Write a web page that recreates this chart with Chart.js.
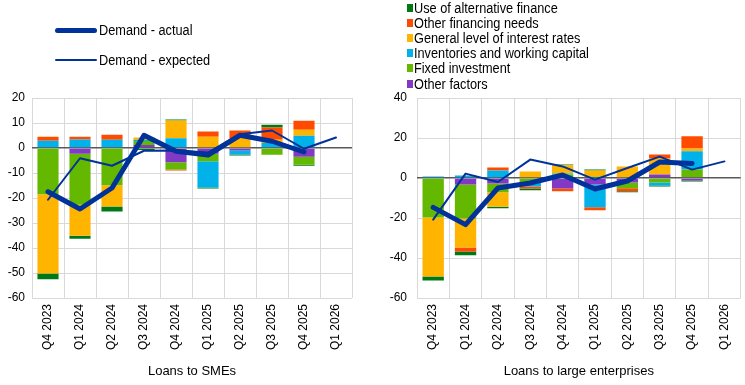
<!DOCTYPE html>
<html>
<head>
<meta charset="utf-8">
<script src="https://cdn.jsdelivr.net/npm/chart.js@4.4.1/dist/chart.umd.min.js"></script>
<style>
  html, body { margin: 0; padding: 0; background: #fff; }
  #wrap { position: relative; width: 745px; height: 385px; overflow: hidden;
          font-family: "Liberation Sans", Arial, sans-serif; }
  canvas { position: absolute; top: 0; }
  #left { left: 0; }
  #right { left: 372px; }
  .lg { position: absolute; font-size: 14px; color: #000; white-space: nowrap; line-height: 16px;
        transform: scaleX(0.91); transform-origin: left center; }
  .sw { position: absolute; }
</style>
</head>
<body>
<div id="wrap">
  <canvas id="left" width="372" height="385"></canvas>
  <canvas id="right" width="373" height="385"></canvas>
  <div id="legend"></div>
</div>
<script>
// quarters on the x axis
const quarters = ['Q4 2023', 'Q1 2024', 'Q2 2024', 'Q3 2024', 'Q4 2024', 'Q1 2025', 'Q2 2025', 'Q3 2025', 'Q4 2025', 'Q1 2026'];

// factor names (stack order, nearest to zero first)
const factorNames = ['Other factors', 'Fixed investment', 'Inventories and working capital',
                     'General level of interest rates', 'Other financing needs', 'Use of alternative finance'];
const factorColours = ['#8139c6', '#65b800', '#00b1ea', '#ffb400', '#ff4b00', '#007816'];

// Loans to SMEs
const smeOther    = [0, -2.3, 0, 1.2, -5.7, -2.3, -1.0, 0, -3.5, null];
const smeFixed    = [-18.5, -20.4, -14.9, 1.6, -2.9, -3.0, 0, -2.7, -3.2, null];
const smeInvent   = [2.9, 3.4, 3.3, 0.5, 3.9, -10.5, -1.6, 2.0, 4.9, null];
const smeRates    = [-31.7, -12.4, -8.5, 0.9, 7.1, 4.5, 4.0, 1.3, 2.4, null];
const smeFinNeeds = [1.6, 1.1, 2.0, 0, -0.4, 2.1, 3.0, 4.9, 3.6, null];
const smeAltFin   = [-2.3, -1.2, -2.0, -0.8, 0.4, -0.4, -0.4, 1.1, -0.4, null];
const smeActual   = [-17.5, -24.4, -16.0, 5.1, -1.3, -2.8, 5.1, 2.7, -1.6, null];
const smeExpected = [-20.7, -4.1, -7.1, -1.1, -1.0, -1.8, 5.5, 7.0, -0.3, 4.2];

// Loans to large enterprises
const largeOther    = [0, -3.3, -2.8, 0, -5.3, -3.3, -2.3, 1.7, -1.2, null];
const largeFixed    = [-19.8, -17.0, -4.3, -2.5, 1.7, 0.8, -2.8, -2.2, 4.2, null];
const largeInvent   = [0.7, 1.2, 3.7, -1.8, 0.5, -11.3, 0, -1.5, 9.2, null];
const largeRates    = [-29.5, -14.5, -7.3, 3.2, 4.2, 2.9, 5.7, 8.0, 1.3, null];
const largeFinNeeds = [0, -2.0, 1.5, -1.0, -1.3, -1.5, -1.5, 2.0, 6.2, null];
const largeAltFin   = [-2.0, -1.8, -0.7, -0.8, 0.3, 0.5, -0.5, -0.5, -0.5, null];
const largeActual   = [-14.7, -23.3, -5.0, -2.5, 1.5, -5.5, -1.5, 8.0, 7.3, null];
const largeExpected = [-20.8, 2.2, -2.0, 9.2, 5.8, -0.8, 5.0, 10.7, 4.2, 8.3];

const smeTicks = [-60, -50, -40, -30, -20, -10, 0, 10, 20];
const largeTicks = [-60, -40, -20, 0, 20, 40];

const lineColour = '#003299';
const tickFont = { family: '"Liberation Sans", Arial, sans-serif', size: 12 };

function makePanel(id, factors, actual, expected, yTicks, title, axisWidth, padRight, labelPad) {
  const datasets = factors.map((vals, i) => ({
    type: 'bar',
    label: factorNames[i],
    data: vals,
    backgroundColor: factorColours[i],
    barPercentage: 0.66,
    categoryPercentage: 1,
    order: 1
  }));
  datasets.push({
    type: 'line', label: 'Demand - actual', data: actual, stack: 'actual',
    borderColor: lineColour, borderWidth: 5, pointRadius: 0, order: 0,
    borderJoinStyle: 'round', borderCapStyle: 'round'
  });
  datasets.push({
    type: 'line', label: 'Demand - expected', data: expected, stack: 'expected',
    borderColor: lineColour, borderWidth: 2, pointRadius: 0, order: 0,
    borderJoinStyle: 'round', borderCapStyle: 'round'
  });

  return new Chart(document.getElementById(id).getContext('2d'), {
    type: 'bar',
    data: { labels: quarters, datasets: datasets },
    options: {
      responsive: false,
      animation: false,
      layout: { padding: { top: 98, right: padRight, bottom: 0, left: 0 } },
      plugins: { legend: { display: false }, tooltip: { enabled: false } },
      scales: {
        x: {
          stacked: true,
          grid: { color: '#d9d9d9', drawTicks: false },
          border: { display: false },
          ticks: { color: '#000', font: tickFont, minRotation: 90, maxRotation: 90, padding: 6, autoSkip: false },
          title: {
            display: true, text: title, color: '#000',
            font: { family: '"Liberation Sans", Arial, sans-serif', size: 13 },
            padding: { top: 0, bottom: 6 }
          },
          afterFit: function(scale) { scale.height = 87; }
        },
        y: {
          stacked: true,
          min: yTicks[0],
          max: yTicks[yTicks.length - 1],
          afterBuildTicks: function(scale) { scale.ticks = yTicks.map(v => ({ value: v })); },
          grid: {
            drawTicks: false,
            color: ctx => (ctx.tick && ctx.tick.value === 0 ? '#595959' : '#d9d9d9'),
            lineWidth: ctx => (ctx.tick && ctx.tick.value === 0 ? 1.5 : 1)
          },
          border: { display: false },
          ticks: { color: '#000', font: tickFont, padding: labelPad },
          afterFit: function(scale) { scale.width = axisWidth; }
        }
      }
    }
  });
}

makePanel('left',
  [smeOther, smeFixed, smeInvent, smeRates, smeFinNeeds, smeAltFin],
  smeActual, smeExpected, smeTicks, 'Loans to SMEs', 32, 20, 7);

makePanel('right',
  [largeOther, largeFixed, largeInvent, largeRates, largeFinNeeds, largeAltFin],
  largeActual, largeExpected, largeTicks, 'Loans to large enterprises', 45, 3, 10);

// legend, drawn as html on top of the canvases
const legend = document.getElementById('legend');
const lineItems = [['Demand - actual', 5, 30], ['Demand - expected', 2, 60]];
lineItems.forEach(([text, w, y]) => {
  const s = document.createElement('div');
  s.className = 'sw';
  s.style.cssText = `left:55px;top:${y - w / 2}px;width:42px;height:${w}px;background:${lineColour};border-radius:${w / 2}px;`;
  legend.appendChild(s);
  const t = document.createElement('div');
  t.className = 'lg';
  t.style.cssText = `left:99px;top:${y - 8}px;`;
  t.textContent = text;
  legend.appendChild(t);
});
// bar legend lists the stack top-down (reverse of dataset order)
for (let i = factorNames.length - 1, row = 0; i >= 0; i--, row++) {
  const y = 7.5 + row * 15.2;
  const s = document.createElement('div');
  s.className = 'sw';
  s.style.cssText = `left:407px;top:${y - 4}px;width:6px;height:8px;background:${factorColours[i]};`;
  legend.appendChild(s);
  const t = document.createElement('div');
  t.className = 'lg';
  t.style.cssText = `left:414px;top:${y - 8}px;`;
  t.textContent = factorNames[i];
  legend.appendChild(t);
}
</script>
</body>
</html>
